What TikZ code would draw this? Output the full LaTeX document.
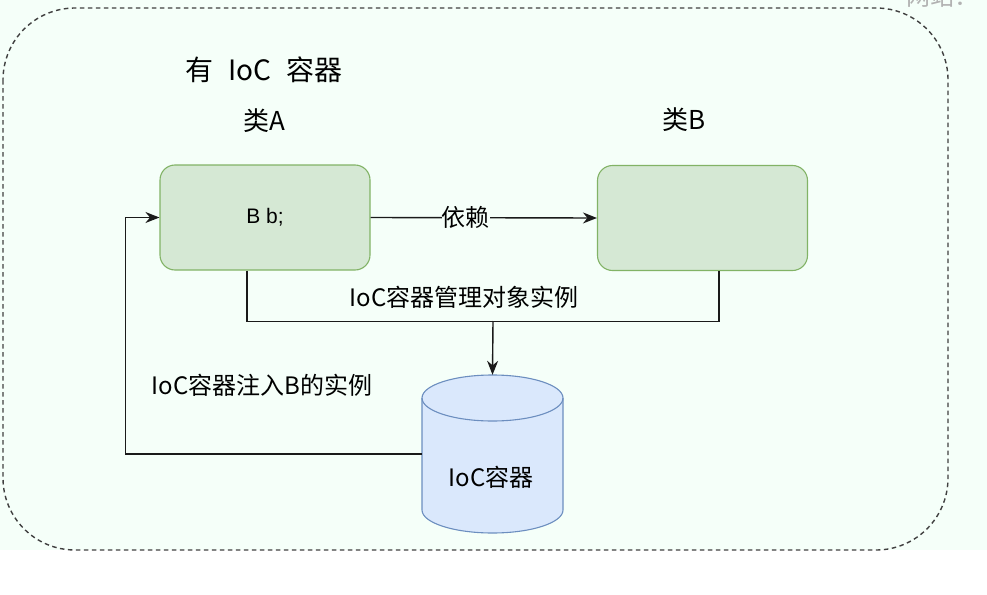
\documentclass[tikz,border=0pt]{standalone}
\usepackage{fontspec}
\setmainfont{Noto Sans CJK SC}
\newfontfamily\latinfont{Liberation Sans}
\usetikzlibrary{arrows.meta}
\definecolor{bgmint}{HTML}{F5FFF9}
\definecolor{boxfill}{HTML}{D5E8D4}
\definecolor{boxline}{HTML}{82B366}
\definecolor{cylfill}{HTML}{DAE8FC}
\definecolor{cylline}{HTML}{6C8EBF}
\definecolor{linegray}{HTML}{1A1A1A}
\begin{document}
\begin{tikzpicture}[x=1pt,y=-1pt,
  classbox/.style={draw=boxline, fill=boxfill, line width=1.1pt, rounded corners=15pt,
    minimum width=210pt, minimum height=105pt, inner sep=0pt,
    font=\latinfont\fontsize{21}{24}\selectfont},
  conn/.style={draw=linegray, line width=1.4pt, -{Stealth[length=14pt,width=11pt]}},
  plainline/.style={draw=linegray, line width=1.4pt},
  lab/.style={inner sep=1pt, font=\fontsize{24}{27}\selectfont},
  head/.style={inner sep=0pt, font=\fontsize{26}{30}\selectfont}
]
\useasboundingbox (0,0) rectangle (987,594);
\fill[bgmint] (0,0) rectangle (987,550);
\draw[dash pattern=on 4.5pt off 3.5pt, line width=1.4pt, draw=black!75, rounded corners=72pt]
  (3,8) rectangle (948,550);
\node[anchor=base west, text=black!30, font=\fontsize{24}{26}\selectfont] (wm) at (903,6) {网站：};

\node[head, font=\fontsize{28}{32}\selectfont] (title) at (264,70) {有\hspace{15pt}IoC\hspace{15pt}容器};
\node[head] (tA) at (264,121) {类A};
\node[head] (tB) at (684,120) {类B};

\node[classbox] (A) at (265,217.5) {B b;};
\node[classbox] (B) at (702.5,218) {};

% cylinder
\node[minimum width=141pt, minimum height=158pt, inner sep=0pt] (cyl) at (492.5,454) {};
\fill[cylfill] (422,398) -- (422,510) arc[start angle=180, end angle=360, x radius=70.5pt, y radius=23pt]
  -- (563,398) arc[start angle=0, end angle=180, x radius=70.5pt, y radius=23pt] -- cycle;
\draw[cylline, line width=1.1pt] (422,398) -- (422,510) arc[start angle=180, end angle=360, x radius=70.5pt, y radius=23pt]
  -- (563,398);
\draw[cylline, line width=1.1pt] (492.5,398) ellipse[x radius=70.5pt, y radius=23pt];
\node[lab] (ctext) at (491,477) {IoC容器};

% connectors
\draw[conn] (A.east) -- node[pos=0.42, lab, fill=bgmint, inner sep=0pt] (dep) {依赖} (B.west);
\coordinate (m) at (493,321);
\draw[plainline] ([xshift=-18pt]A.south) -- ++(0,51) -| ([xshift=16.5pt]B.south);
\draw[conn] (m) -- (cyl.north);
\coordinate (L) at (125.5,454);
\draw[conn] (cyl.west) -- (L) |- (A.west);

\node[lab] (l1) at (464,297) {IoC容器管理对象实例};
\node[lab] (l2) at (262,385) {IoC容器注入B的实例};
\end{tikzpicture}
\end{document}
